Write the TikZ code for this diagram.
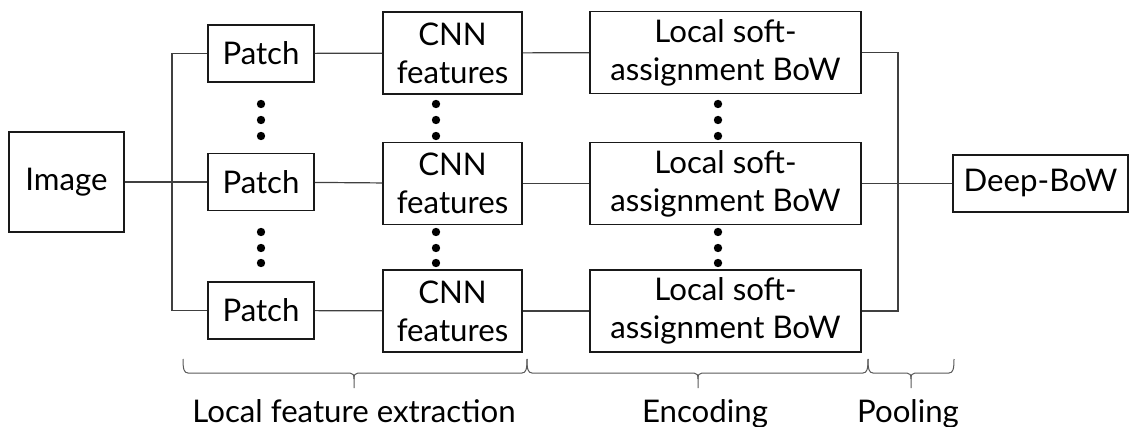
\documentclass[tikz,border=0pt]{standalone}
\usepackage{fontspec}
\setmainfont{Lato}
\begin{document}
\begin{tikzpicture}[x=1pt,y=-1pt,
  txt/.style={font=\fontsize{31.2}{38}\selectfont},
  box/.style={draw=black!90, line width=1.8pt, rectangle, inner sep=0pt, align=center, txt},
  patchbox/.style={box, minimum width=106pt, minimum height=57pt},
  cnnbox/.style={box, minimum width=139pt, minimum height=82pt},
  locbox/.style={box, minimum width=271pt, minimum height=82pt},
  wire/.style={draw=black!75, line width=1.2pt},
  vdot/.style={fill=black},
  grp/.style={draw=black!65, line width=1pt},
  lbl/.style={txt, anchor=base, inner sep=0pt}
]
\useasboundingbox (0,0) rectangle (1129,427);

% input image
\node[box, minimum width=115pt, minimum height=100pt] (img) at (66.5,182) {Image};

% patch column
\node[patchbox] (p1) at (261,53.5) {Patch};
\node[patchbox] (p2) at (261,182) {Patch};
\node[patchbox] (p3) at (261,310.5) {Patch};

% CNN feature column
\node[cnnbox] (c1) at (452.5,53) {CNN\\features};
\node[cnnbox] (c2) at (452.5,183.5) {CNN\\features};
\node[cnnbox] (c3) at (452.5,311) {CNN\\features};

% local encoding column
\node[locbox] (l1) at (725.5,52.5) {Local soft-\\assignment BoW};
\node[locbox] (l2) at (725.5,183.5) {Local soft-\\assignment BoW};
\node[locbox] (l3) at (725.5,311) {Local soft-\\assignment BoW};

% pooled output
\node[box, minimum width=175pt, minimum height=57pt] (out) at (1040.5,183.5) {Deep-BoW};

% junctions of the fan-out and fan-in
\coordinate (jl) at (172,182);
\coordinate (jr) at (898,183.5);

% connectors
\draw[wire] (img) -- (p2);
\draw[wire] (p1.west) -| (jl) |- (p3.west);
\foreach \i in {1,2,3}{
  \draw[wire] (p\i) -- (c\i);
  \draw[wire] (c\i) -- (l\i);
}
\draw[wire] (l1.east) -| (jr) |- (l3.east);
\draw[wire] (l2) -- (out);

% vertical ellipses between rows
\foreach \x in {261,436,718}{
  \foreach \y in {104,120,136,232,248,263}{
    \fill[vdot] (\x,\y) circle (4.2);
  }
}

% group braces under the columns
\newcommand\grpbrace[3]{%
  \draw[grp] (#1,359) .. controls (#1,369) and (#1+1,373) .. (#1+5,373)
    -- (#3-4,373) .. controls (#3-1,373) and (#3,375) .. (#3,379) -- (#3,388);
  \draw[grp] (#2,359) .. controls (#2,369) and (#2-1,373) .. (#2-5,373)
    -- (#3+4,373) .. controls (#3+1,373) and (#3,375) .. (#3,379);
}
\grpbrace{183}{527}{354}
\grpbrace{527}{868}{698}
\grpbrace{868}{954}{911}

% stage labels
\node[lbl] (s1) at (354,422) {Local feature extraction};
\node[lbl] (s2) at (705,422) {Encoding};
\node[lbl] (s3) at (908,422) {Pooling};
\end{tikzpicture}
\end{document}
